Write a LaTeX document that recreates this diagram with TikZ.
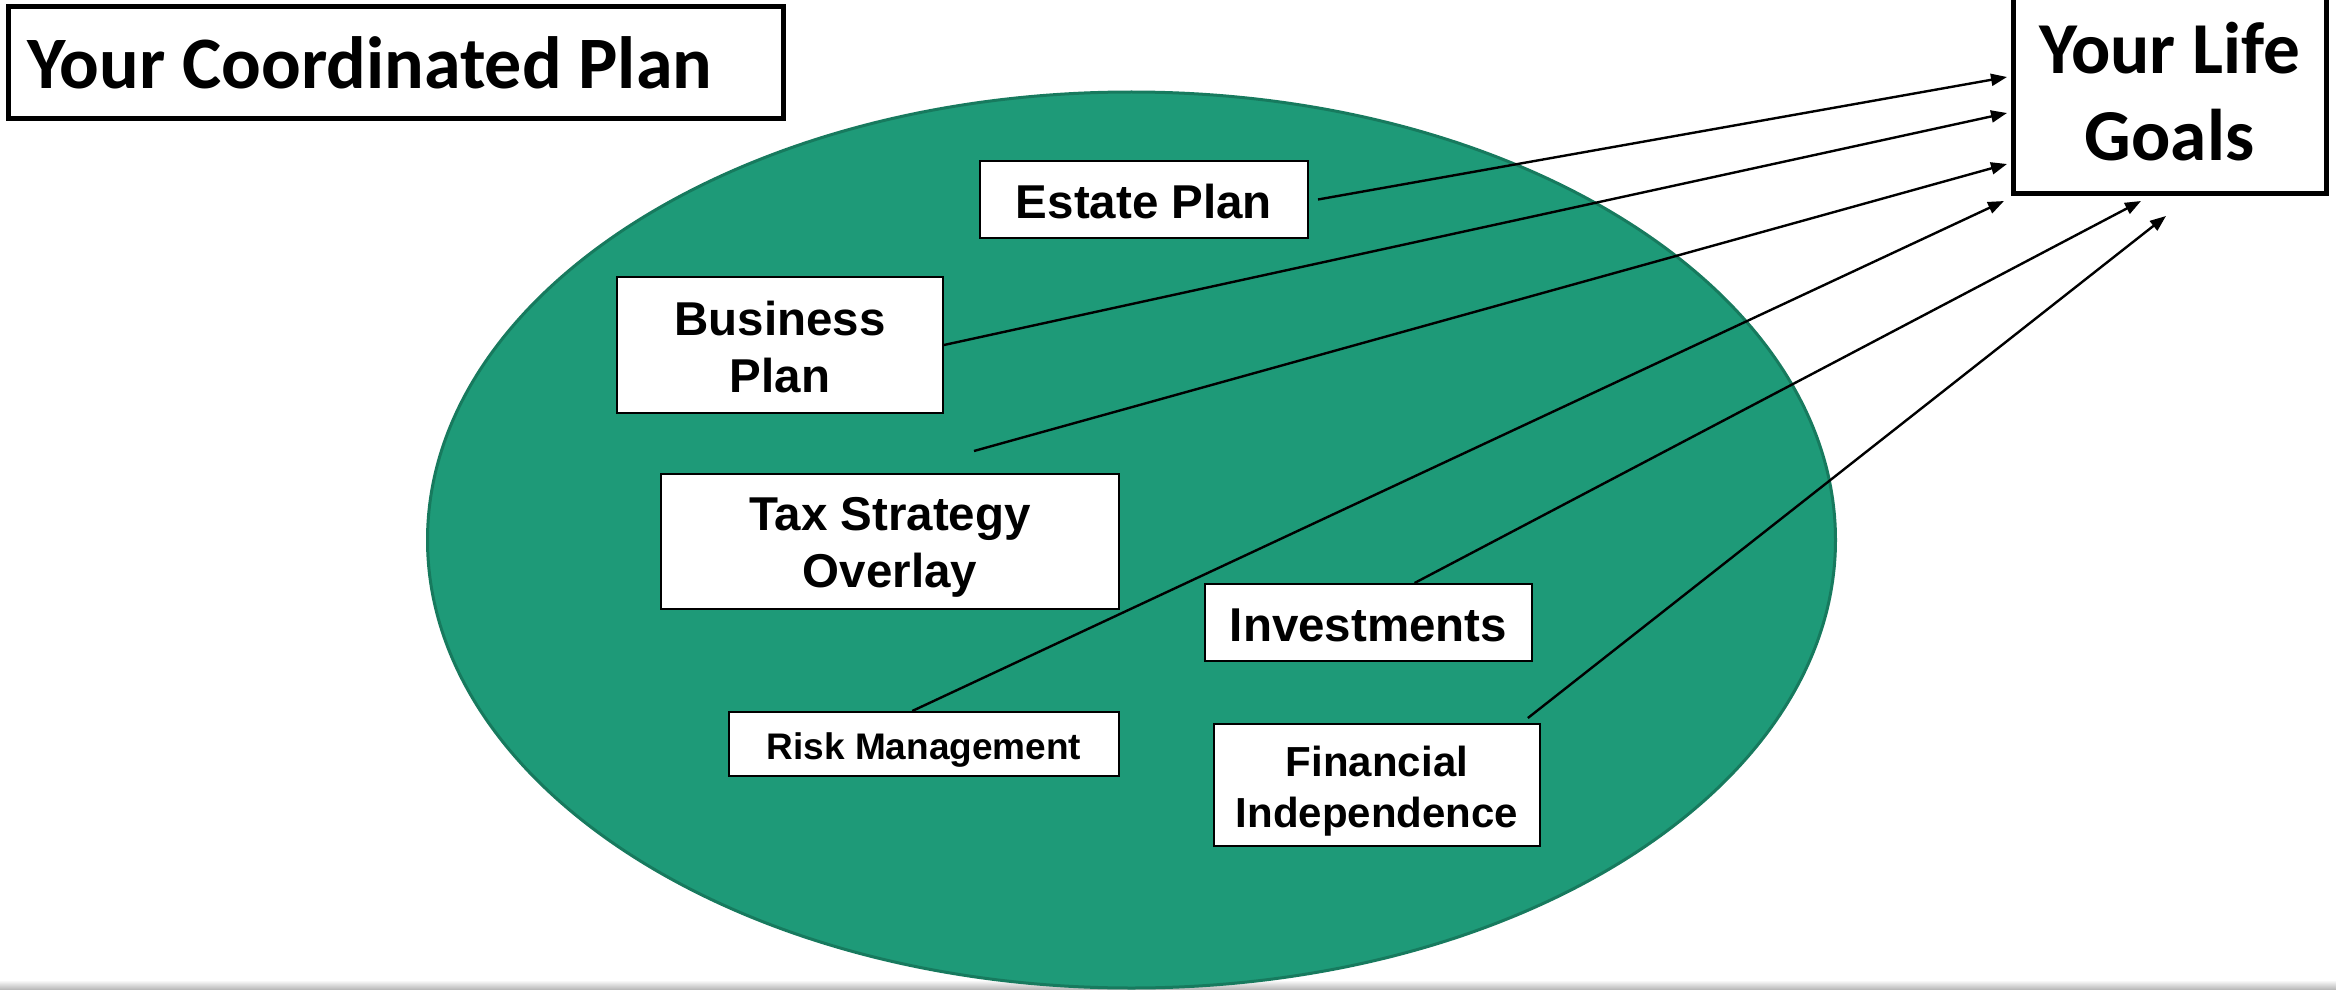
\documentclass[tikz,border=0pt]{standalone}
\usepackage{fontspec}
\setmainfont{Liberation Sans}
\newfontfamily\calib{Carlito}
\usetikzlibrary{arrows.meta,calc}
\definecolor{ellfill}{HTML}{1E9A78}
\definecolor{elldraw}{HTML}{177A5E}
\begin{document}
\begin{tikzpicture}[x=0.5pt,y=-0.5pt,
  box/.style={draw=black,line width=1pt,fill=white,inner sep=0pt},
  lbl/.style={font=\bfseries\fontsize{23.75}{28.5}\selectfont,align=center,inner sep=0pt},
  bigbox/.style={draw=black,line width=2.5pt,fill=white,inner sep=0pt},
  conn/.style={line width=1.2pt,-{Triangle[length=8pt,width=6pt]}}]
\useasboundingbox (0,0) rectangle (2336,990);
\clip (0,0) rectangle (2336,990);
\shade[top color=white,bottom color=black!30] (0,980) rectangle (2336,990);
% ellipse
\draw[fill=ellfill,draw=elldraw,line width=1.5pt] (1131.5,540) ellipse [x radius=704, y radius=448];
% title
\node[bigbox,anchor=north west,minimum width=387.5pt,minimum height=56pt] (title) at (6,4) {};
\node[anchor=west,inner sep=0pt,font=\calib\bfseries\fontsize{37}{44}\selectfont] (titlet) at ($(title.west)+(21,0)$) {Your Coordinated Plan};
% goals
\node[bigbox,minimum width=156.5pt,minimum height=102pt,align=center,font=\calib\bfseries\fontsize{36.6}{43.5}\selectfont] (goals) at (2169.5,92) {Your Life\\Goals};
% inner boxes
\node[box,minimum width=164pt,minimum height=38.5pt] (estate) at (1144,199.5) {};
\node[lbl] (estatet) at ($(estate)+(0,2)$) {Estate Plan};
\node[box,minimum width=163pt,minimum height=68pt] (business) at (780,345) {};
\node[lbl] (businesst) at ($(business)+(0,2)$) {Business\\Plan};
\node[box,minimum width=229pt,minimum height=67.5pt] (tax) at (890,541.5) {};
\node[lbl] (taxt) at ($(tax)+(0,6)$) {Tax Strategy\\Overlay};
\node[box,minimum width=163.5pt,minimum height=38.5pt] (invest) at (1368.5,622.5) {};
\node[lbl] (investt) at ($(invest)+(0,3)$) {Investments};
\node[box,minimum width=195pt,minimum height=32pt] (risk) at (924,744) {};
\node[lbl,font=\bfseries\fontsize{18.5}{22}\selectfont] (riskt) at ($(risk)+(0,6)$) {Risk Management};
\node[box,minimum width=163pt,minimum height=61pt] (fin) at (1377,785) {};
\node[lbl,font=\bfseries\fontsize{21}{25.3}\selectfont] (fint) at ($(fin)+(0,6)$) {Financial\\Independence};
% arrow coordinates
\coordinate (g1) at (2007,77);
\coordinate (g2) at (2007,113);
\coordinate (g3) at (2007,164);
\coordinate (g4) at (2004,201);
\coordinate (g5) at (2141,201);
\coordinate (g6) at (2166,216);
\coordinate (t3) at (974,451);
% connectors
\draw[conn] ($(estate.east)+(9,0)$) -- (g1);
\draw[conn] (business.east) -- (g2);
\draw[conn] (t3) -- (g3);
\draw[conn] ($(risk.north west)!0.47!(risk.north east)$) -- (g4);
\draw[conn] ($(invest.north west)!0.64!(invest.north east)$) -- (g5);
\draw[conn] ($(fin.north west)!0.96!(fin.north east)+(0,-5)$) -- (g6);
\end{tikzpicture}
\end{document}
